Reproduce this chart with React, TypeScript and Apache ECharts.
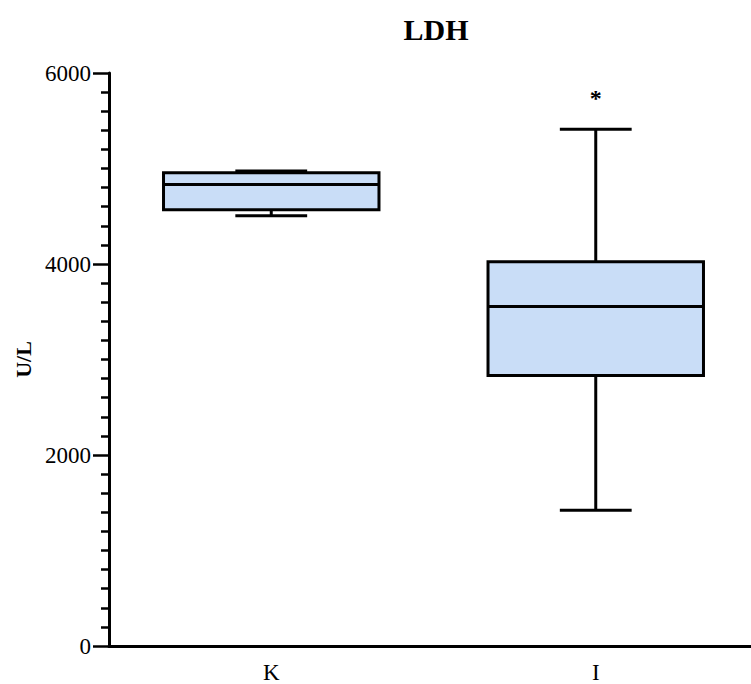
import React, { useEffect, useRef } from "react";
import * as echarts from "echarts";

const categories = ["K", "I"];
const whiskerLow = [4505, 1422];
const quartile1 = [4568, 2833];
const medians = [4832, 3554];
const quartile3 = [4955, 4024];
const whiskerHigh = [4975, 5411];
const yTicks = [0, 2000, 4000, 6000];
const asteriskCategory = 1;
const asteriskValue = 5740;

const FONT = "'Liberation Serif', 'Times New Roman', serif";

export default function App() {
  const ref = useRef<HTMLDivElement>(null);
  useEffect(() => {
    document.body.style.margin = "0";
    document.body.style.overflow = "hidden";
    const chart = echarts.init(ref.current!, null, { renderer: "svg" });
    const boxData = categories.map((_, i) => [
      i,
      whiskerLow[i],
      quartile1[i],
      medians[i],
      quartile3[i],
      whiskerHigh[i],
    ]);
    chart.setOption({
      animation: false,
      backgroundColor: "#ffffff",
      title: {
        text: "LDH",
        left: 431,
        top: 9,
        textAlign: "center",
        textStyle: { fontFamily: FONT, fontWeight: "bold", fontSize: 30, color: "#000" },
      },
      grid: { left: 109, top: 73, bottom: 37, right: 0 },
      xAxis: {
        type: "category",
        data: categories,
        axisLine: { lineStyle: { color: "#000", width: 3 } },
        axisTick: { alignWithLabel: true, length: 9, lineStyle: { color: "#000", width: 2.5 } },
        axisLabel: { fontFamily: FONT, fontSize: 23, color: "#000", margin: 15 },
      },
      yAxis: {
        type: "value",
        min: yTicks[0],
        max: yTicks[yTicks.length - 1],
        interval: 2000,
        name: "U/L",
        nameLocation: "middle",
        nameGap: 63,
        nameTextStyle: { fontFamily: FONT, fontWeight: "bold", fontSize: 22, color: "#000" },
        axisLine: { show: true, lineStyle: { color: "#000", width: 3 } },
        axisTick: { show: true, length: 16, lineStyle: { color: "#000", width: 2.5 } },
        minorTick: { show: true, splitNumber: 10, length: 8, lineStyle: { color: "#000", width: 2.5 } },
        splitLine: { show: false },
        axisLabel: {
          fontFamily: FONT,
          fontSize: 23,
          color: "#000",
          margin: 18,
          formatter: (v: number) => String(v),
        },
      },
      series: [
        {
          type: "custom",
          data: boxData,
          encode: { x: 0, y: [1, 2, 3, 4, 5] },
          renderItem: (params: any, api: any) => {
            const idx = api.value(0);
            const lo = api.coord([idx, api.value(1)]);
            const q1 = api.coord([idx, api.value(2)]);
            const med = api.coord([idx, api.value(3)]);
            const q3 = api.coord([idx, api.value(4)]);
            const hi = api.coord([idx, api.value(5)]);
            const band = api.size([1, 0])[0];
            const bw = band * 0.664;
            const cw = bw / 3;
            const x = lo[0];
            const ls = { stroke: "#000", lineWidth: 3 };
            return {
              type: "group",
              children: [
                { type: "line", shape: { x1: x, y1: hi[1], x2: x, y2: q3[1] }, style: ls },
                { type: "line", shape: { x1: x, y1: q1[1], x2: x, y2: lo[1] }, style: ls },
                { type: "line", shape: { x1: x - cw / 2, y1: hi[1], x2: x + cw / 2, y2: hi[1] }, style: ls },
                { type: "line", shape: { x1: x - cw / 2, y1: lo[1], x2: x + cw / 2, y2: lo[1] }, style: ls },
                {
                  type: "rect",
                  shape: { x: x - bw / 2, y: q3[1], width: bw, height: q1[1] - q3[1] },
                  style: { fill: "#c9ddf7", stroke: "#000", lineWidth: 3 },
                },
                { type: "line", shape: { x1: x - bw / 2, y1: med[1], x2: x + bw / 2, y2: med[1] }, style: ls },
              ],
            };
          },
        },
        {
          type: "custom",
          data: [[asteriskCategory, asteriskValue]],
          renderItem: (params: any, api: any) => {
            const p = api.coord([api.value(0), api.value(1)]);
            return {
              type: "text",
              x: p[0],
              y: p[1],
              style: {
                text: "*",
                fontFamily: FONT,
                fontWeight: "bold",
                fontSize: 24,
                fill: "#000",
                align: "center",
                verticalAlign: "middle",
              },
            };
          },
        },
      ],
    });
    return () => chart.dispose();
  }, []);
  return <div ref={ref} style={{ width: 758, height: 684 }} />;
}
